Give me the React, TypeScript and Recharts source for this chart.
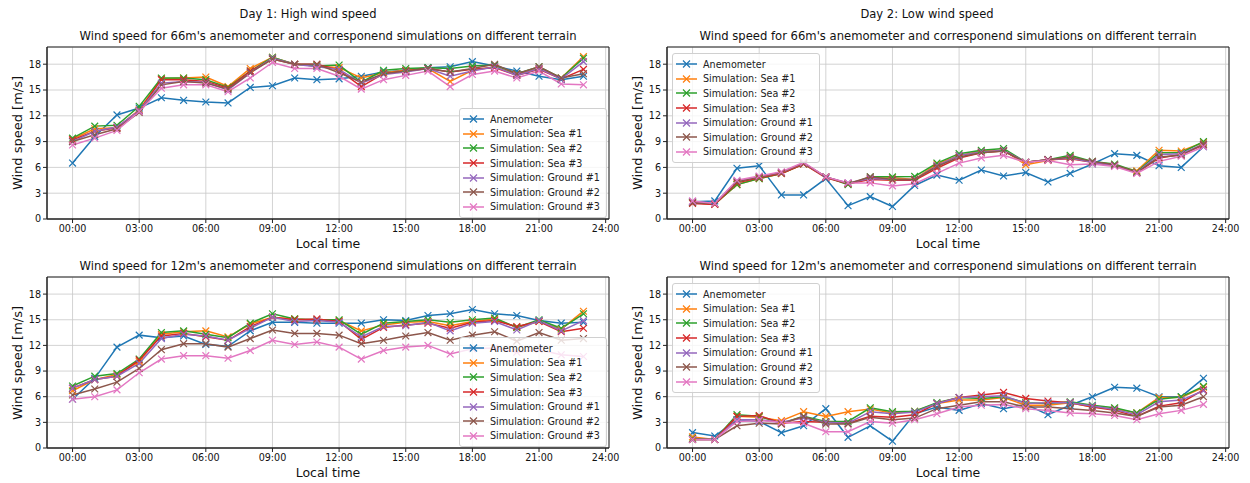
import React from "react";
import {
  LineChart,
  Line,
  XAxis,
  YAxis,
  CartesianGrid,
  ReferenceArea,
} from "recharts";

const hours = [0, 1, 2, 3, 4, 5, 6, 7, 8, 9, 10, 11, 12, 13, 14, 15, 16, 17, 18, 19, 20, 21, 22, 23];
const xTicks = [0, 3, 6, 9, 12, 15, 18, 21, 24];
const yTicks = [0, 3, 6, 9, 12, 15, 18];

const seriesNames = [
  "Anemometer",
  "Simulation: Sea #1",
  "Simulation: Sea #2",
  "Simulation: Sea #3",
  "Simulation: Ground #1",
  "Simulation: Ground #2",
  "Simulation: Ground #3",
];
const seriesColors = ["#1f77b4", "#ff7f0e", "#2ca02c", "#d62728", "#9467bd", "#8c564b", "#e377c2"];

// Day 1, 66m
const d1h66Anem = [6.5, 9.6, 12.1, 12.9, 14.1, 13.8, 13.6, 13.5, 15.3, 15.5, 16.4, 16.2, 16.3, 16.6, 17.1, 17.3, 17.6, 17.7, 18.3, 17.8, 17.2, 16.6, 16.2, 16.6];
const d1h66Sea1 = [9.3, 10.5, 10.6, 12.7, 16.3, 16.4, 16.5, 15.4, 17.5, 18.8, 18.0, 17.8, 17.6, 16.4, 17.0, 17.3, 17.5, 16.0, 17.3, 17.7, 16.8, 17.5, 16.4, 18.9];
const d1h66Sea2 = [9.4, 10.8, 10.9, 13.1, 16.4, 16.4, 16.2, 15.3, 17.2, 18.8, 18.0, 17.8, 17.9, 15.9, 17.3, 17.5, 17.6, 17.5, 17.8, 17.9, 16.9, 17.7, 16.4, 18.7];
const d1h66Sea3 = [9.2, 10.2, 10.6, 12.6, 16.2, 16.2, 16.0, 15.2, 17.2, 18.6, 18.0, 18.0, 17.3, 15.4, 16.9, 17.2, 17.5, 17.1, 17.4, 17.6, 16.7, 17.4, 16.3, 17.4];
const d1h66Gnd1 = [9.0, 10.2, 10.7, 12.6, 15.8, 16.0, 15.9, 15.0, 17.0, 18.7, 18.0, 17.7, 17.4, 15.8, 16.8, 17.1, 17.5, 16.6, 17.2, 17.7, 16.7, 17.5, 16.3, 18.3];
const d1h66Gnd2 = [9.0, 9.8, 10.5, 12.4, 15.6, 16.0, 15.8, 15.1, 17.0, 18.6, 18.0, 18.0, 17.0, 15.9, 16.9, 17.2, 17.5, 17.1, 17.5, 18.0, 16.9, 17.7, 16.4, 16.9];
const d1h66Gnd3 = [8.6, 9.4, 10.3, 12.5, 15.2, 15.6, 15.6, 14.8, 16.4, 18.2, 17.5, 17.5, 16.6, 15.1, 16.2, 16.7, 17.2, 15.4, 16.8, 17.2, 16.4, 17.2, 15.7, 15.6];

// Day 2, 66m
const d2h66Anem = [2.0, 2.1, 5.9, 6.2, 2.8, 2.8, 4.7, 1.55, 2.6, 1.45, 3.9, 5.1, 4.5, 5.7, 5.0, 5.4, 4.3, 5.3, 6.4, 7.6, 7.4, 6.2, 6.0, 8.4];
const d2h66Sea1 = [1.9, 1.75, 4.0, 4.7, 5.3, 6.4, 4.9, 4.1, 4.7, 4.8, 4.6, 6.4, 7.4, 7.9, 8.0, 6.3, 6.8, 7.2, 6.6, 6.2, 5.6, 8.0, 7.9, 8.9];
const d2h66Sea2 = [1.9, 1.75, 4.0, 4.7, 5.3, 6.4, 4.9, 4.0, 4.9, 4.9, 4.95, 6.5, 7.6, 8.0, 8.2, 6.6, 6.9, 7.4, 6.7, 6.4, 5.5, 7.7, 7.7, 9.0];
const d2h66Sea3 = [1.8, 1.7, 4.2, 4.8, 5.3, 6.4, 4.8, 4.1, 4.6, 4.5, 4.5, 5.9, 7.1, 7.7, 7.9, 6.6, 6.9, 7.0, 6.6, 6.2, 5.4, 7.1, 7.5, 8.6];
const d2h66Gnd1 = [2.0, 1.8, 4.4, 4.9, 5.4, 6.5, 4.9, 4.2, 4.7, 4.6, 4.6, 6.2, 7.4, 7.8, 8.0, 6.6, 6.9, 7.1, 6.6, 6.2, 5.4, 7.5, 7.6, 8.7];
const d2h66Gnd2 = [1.9, 1.8, 4.3, 4.9, 5.4, 6.5, 4.9, 4.1, 4.9, 4.6, 4.6, 6.1, 7.2, 7.7, 7.9, 6.6, 6.9, 7.2, 6.7, 6.3, 5.4, 7.2, 7.4, 8.7];
const d2h66Gnd3 = [2.1, 1.8, 4.5, 5.0, 5.5, 6.6, 4.9, 4.2, 4.2, 3.85, 4.1, 5.3, 6.5, 7.1, 7.4, 6.6, 6.8, 6.3, 6.4, 6.1, 5.3, 6.7, 7.3, 8.4];

// Day 1, 12m
const d1h12Anem = [5.7, 8.15, 11.8, 13.2, 12.9, 13.1, 12.1, 11.9, 13.7, 14.7, 14.7, 14.6, 14.6, 14.6, 15.0, 14.9, 15.5, 15.7, 16.2, 15.7, 15.5, 14.9, 14.6, 14.7];
const d1h12Sea1 = [6.7, 8.0, 8.6, 10.1, 13.3, 13.6, 13.7, 13.0, 14.5, 15.3, 15.1, 14.9, 14.9, 13.7, 14.4, 14.7, 14.8, 14.3, 14.8, 15.1, 14.1, 14.8, 13.9, 16.0];
const d1h12Sea2 = [7.25, 8.4, 8.7, 10.4, 13.5, 13.7, 13.3, 12.9, 14.6, 15.7, 15.1, 15.0, 15.0, 13.3, 14.6, 14.8, 15.0, 14.7, 15.0, 15.2, 14.1, 15.0, 14.0, 15.7];
const d1h12Sea3 = [7.0, 8.0, 8.4, 10.3, 13.1, 13.4, 13.0, 12.6, 14.2, 15.3, 15.0, 15.1, 14.8, 12.7, 14.1, 14.4, 14.6, 14.0, 14.7, 14.9, 14.2, 14.8, 13.6, 14.0];
const d1h12Gnd1 = [7.0, 8.0, 8.4, 9.9, 12.8, 13.3, 13.1, 12.6, 14.0, 15.3, 14.8, 14.9, 14.7, 13.0, 14.2, 14.3, 14.7, 13.7, 14.6, 14.8, 13.8, 14.9, 13.7, 14.9];
const d1h12Gnd2 = [6.2, 6.9, 7.7, 9.3, 11.5, 12.2, 12.2, 11.8, 12.8, 13.8, 13.4, 13.4, 13.2, 12.2, 12.6, 13.1, 13.5, 12.6, 13.2, 13.6, 12.5, 13.5, 12.6, 12.8];
const d1h12Gnd3 = [5.7, 6.0, 6.8, 8.8, 10.4, 10.8, 10.8, 10.5, 11.4, 12.6, 12.1, 12.4, 11.8, 10.4, 11.4, 11.8, 12.0, 11.0, 11.6, 11.7, 11.2, 11.5, 10.9, 10.7];

// Day 2, 12m
const d2h12Anem = [1.8, 1.4, 3.3, 3.1, 1.8, 2.6, 4.6, 1.25, 2.6, 0.8, 4.0, 4.8, 4.4, 5.2, 4.6, 5.1, 3.9, 5.0, 6.0, 7.1, 7.0, 6.0, 6.0, 8.15];
const d2h12Sea1 = [1.3, 1.0, 3.7, 3.6, 3.2, 4.25, 3.7, 4.25, 4.55, 4.1, 4.3, 5.2, 5.6, 5.6, 5.9, 5.0, 5.0, 5.3, 4.8, 4.6, 4.1, 5.9, 5.9, 7.1];
const d2h12Sea2 = [1.1, 1.0, 3.9, 3.7, 2.9, 3.7, 3.1, 3.1, 4.7, 4.25, 4.3, 5.3, 5.9, 5.8, 6.0, 5.3, 5.2, 5.4, 5.0, 4.7, 4.1, 5.7, 6.0, 7.2];
const d2h12Sea3 = [1.0, 1.0, 3.7, 3.8, 2.9, 3.1, 3.0, 2.9, 3.7, 3.6, 3.9, 5.2, 5.9, 6.2, 6.5, 5.8, 5.5, 5.3, 4.8, 4.4, 3.7, 4.9, 5.3, 6.8];
const d2h12Gnd1 = [1.0, 1.0, 3.3, 3.3, 3.0, 3.5, 3.0, 2.9, 4.25, 4.0, 4.2, 5.2, 5.9, 6.0, 6.1, 5.2, 5.3, 5.3, 4.9, 4.5, 3.9, 5.4, 5.6, 6.7];
const d2h12Gnd2 = [1.0, 1.0, 2.6, 2.9, 2.8, 3.7, 2.8, 2.8, 3.6, 3.3, 3.5, 4.6, 5.0, 5.4, 5.4, 4.8, 4.8, 4.6, 4.4, 4.1, 3.7, 4.8, 5.0, 6.0];
const d2h12Gnd3 = [1.0, 1.0, 3.1, 3.2, 3.0, 2.9, 1.9, 1.9, 3.1, 2.9, 3.3, 4.0, 4.8, 5.0, 5.1, 4.6, 4.4, 4.1, 4.0, 3.8, 3.3, 4.0, 4.4, 5.1];

const FONT = "'DejaVu Sans', sans-serif";
const X_DOMAIN: [number, number] = [-1.15, 24.15];
const Y_DOMAIN: [number, number] = [0, 20];
const CHART_W = 625;
const CHART_H = 250;
const YAXIS_W = 47;
const XAXIS_H = 22;

function buildRows(series: number[][]) {
  return hours.map((h, i) => {
    const row: Record<string, number> = { hour: h };
    series.forEach((s, k) => {
      row["s" + k] = s[i];
    });
    return row;
  });
}

function fmtHour(h: number) {
  return String(h).padStart(2, "0") + ":00";
}

const makeCross = (color: string) => (props: any) => {
  const { cx, cy, index } = props;
  if (cx == null || cy == null) return <g key={index} />;
  const r = 3.4;
  return (
    <path
      key={index}
      d={`M${cx - r},${cy - r}L${cx + r},${cy + r}M${cx - r},${cy + r}L${cx + r},${cy - r}`}
      stroke={color}
      strokeWidth={1.2}
      fill="none"
    />
  );
};

function LegendBox({ left, top }: { left: number; top: number }) {
  return (
    <div
      style={{
        position: "absolute",
        left,
        top,
        width: 146,
        padding: "3px 0 3px 0",
        background: "rgba(255,255,255,0.8)",
        border: "1px solid #d0d0d0",
        borderRadius: 3,
        fontFamily: FONT,
        fontSize: 9.6,
        color: "#222",
      }}
    >
      {seriesNames.map((name, i) => (
        <div key={name} style={{ display: "flex", alignItems: "center", height: 14.6 }}>
          <svg width={30} height={10} style={{ flex: "none" }}>
            <line x1={3} y1={5} x2={24} y2={5} stroke={seriesColors[i]} strokeWidth={1.5} />
            <path d="M10,1.5L17,8.5M10,8.5L17,1.5" stroke={seriesColors[i]} strokeWidth={1.2} />
          </svg>
          <span style={{ whiteSpace: "nowrap" }}>{name}</span>
        </div>
      ))}
    </div>
  );
}

interface PanelProps {
  colLeft: number;
  rowTop: number;
  plotX0: number;
  plotX1: number;
  plotY0: number;
  plotY1: number;
  title: string;
  series: number[][];
  legendLeft: number;
  legendTop: number;
}

function Panel({ colLeft, rowTop, plotX0, plotX1, plotY0, plotY1, title, series, legendLeft, legendTop }: PanelProps) {
  const data = buildRows(series);
  const cx = (plotX0 + plotX1) / 2;
  const cy = (plotY0 + plotY1) / 2;
  return (
    <>
      <div
        style={{
          position: "absolute",
          left: cx,
          top: plotY0 - 18,
          transform: "translateX(-50%)",
          whiteSpace: "nowrap",
          fontFamily: FONT,
          fontSize: 11.6,
          color: "#111",
        }}
      >
        {title}
      </div>
      <div style={{ position: "absolute", left: colLeft, top: rowTop }}>
        <LineChart
          width={CHART_W}
          height={CHART_H}
          data={data}
          margin={{
            top: plotY0 - rowTop,
            left: plotX0 - colLeft - YAXIS_W,
            right: colLeft + CHART_W - plotX1,
            bottom: rowTop + CHART_H - plotY1 - XAXIS_H,
          }}
        >
          <CartesianGrid stroke="#c8c8c8" strokeWidth={0.8} />
          <XAxis
            dataKey="hour"
            type="number"
            domain={X_DOMAIN}
            ticks={xTicks}
            tickFormatter={fmtHour}
            allowDataOverflow
            height={XAXIS_H}
            tickSize={4}
            tickMargin={2}
            stroke="#222"
            tick={{ fill: "#111", fontSize: 9.6, fontFamily: FONT }}
          />
          <YAxis
            type="number"
            domain={Y_DOMAIN}
            ticks={yTicks}
            allowDataOverflow
            width={YAXIS_W}
            tickSize={4}
            tickMargin={2}
            stroke="#222"
            tick={{ fill: "#111", fontSize: 9.6, fontFamily: FONT }}
          />
          {series.map((_, k) => (
            <Line
              key={k}
              dataKey={"s" + k}
              name={seriesNames[k]}
              stroke={seriesColors[k]}
              strokeWidth={1.5}
              dot={makeCross(seriesColors[k])}
              activeDot={false}
              isAnimationActive={false}
            />
          ))}
          <ReferenceArea
            x1={X_DOMAIN[0]}
            x2={X_DOMAIN[1]}
            y1={Y_DOMAIN[0]}
            y2={Y_DOMAIN[1]}
            fill="none"
            stroke="#222"
            strokeWidth={1}
            ifOverflow="visible"
          />
        </LineChart>
      </div>
      <div
        style={{
          position: "absolute",
          left: cx,
          top: plotY1 + 17,
          transform: "translateX(-50%)",
          whiteSpace: "nowrap",
          fontFamily: FONT,
          fontSize: 12.5,
          color: "#111",
        }}
      >
        Local time
      </div>
      <div
        style={{
          position: "absolute",
          left: plotX0 - 30,
          top: cy,
          transform: "translate(-50%, -50%) rotate(-90deg)",
          whiteSpace: "nowrap",
          fontFamily: FONT,
          fontSize: 13,
          color: "#111",
        }}
      >
        Wind speed [m/s]
      </div>
      <LegendBox left={legendLeft} top={legendTop} />
    </>
  );
}

export default function App() {
  const title66 = "Wind speed for 66m's anemometer and corresponend simulations on different terrain";
  const title12 = "Wind speed for 12m's anemometer and corresponend simulations on different terrain";
  const supStyle: React.CSSProperties = {
    position: "absolute",
    top: 7,
    transform: "translateX(-50%)",
    whiteSpace: "nowrap",
    fontFamily: FONT,
    fontSize: 11.5,
    color: "#111",
  };
  return (
    <div style={{ position: "absolute", left: 0, top: 0, width: 1250, height: 483, background: "#fff", overflow: "hidden" }}>
      <div style={{ ...supStyle, left: 308 }}>Day 1: High wind speed</div>
      <div style={{ ...supStyle, left: 927 }}>Day 2: Low wind speed</div>
      <Panel
        colLeft={0}
        rowTop={0}
        plotX0={47}
        plotX1={609}
        plotY0={47}
        plotY1={219}
        title={title66}
        series={[d1h66Anem, d1h66Sea1, d1h66Sea2, d1h66Sea3, d1h66Gnd1, d1h66Gnd2, d1h66Gnd3]}
        legendLeft={459}
        legendTop={108}
      />
      <Panel
        colLeft={620}
        rowTop={0}
        plotX0={667}
        plotX1={1229}
        plotY0={47}
        plotY1={219}
        title={title66}
        series={[d2h66Anem, d2h66Sea1, d2h66Sea2, d2h66Sea3, d2h66Gnd1, d2h66Gnd2, d2h66Gnd3]}
        legendLeft={672}
        legendTop={53}
      />
      <Panel
        colLeft={0}
        rowTop={230}
        plotX0={47}
        plotX1={609}
        plotY0={277}
        plotY1={448}
        title={title12}
        series={[d1h12Anem, d1h12Sea1, d1h12Sea2, d1h12Sea3, d1h12Gnd1, d1h12Gnd2, d1h12Gnd3]}
        legendLeft={459}
        legendTop={337}
      />
      <Panel
        colLeft={620}
        rowTop={230}
        plotX0={667}
        plotX1={1229}
        plotY0={277}
        plotY1={448}
        title={title12}
        series={[d2h12Anem, d2h12Sea1, d2h12Sea2, d2h12Sea3, d2h12Gnd1, d2h12Gnd2, d2h12Gnd3]}
        legendLeft={672}
        legendTop={283}
      />
    </div>
  );
}
